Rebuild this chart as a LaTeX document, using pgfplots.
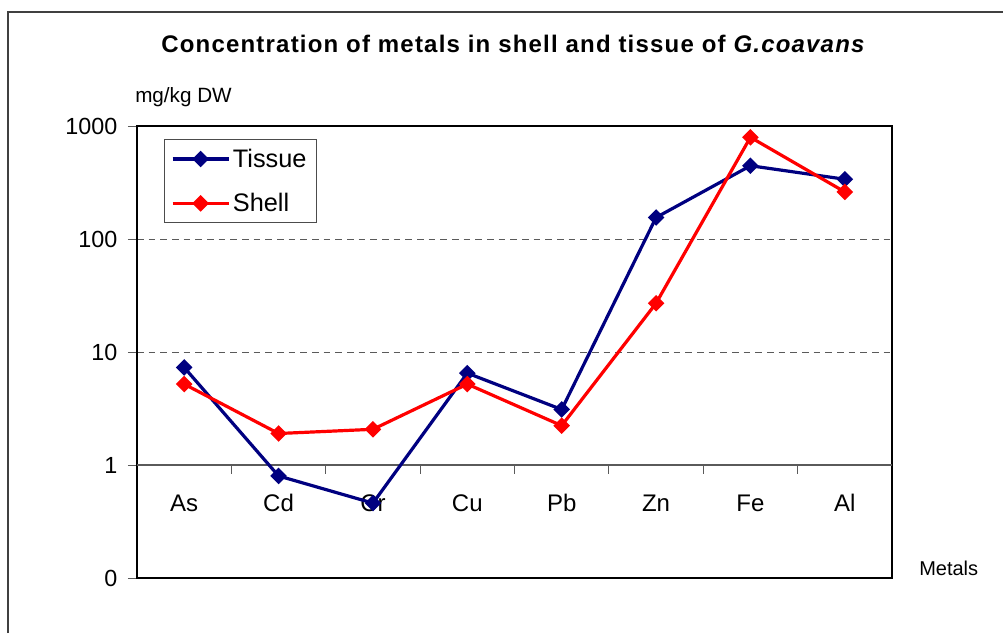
\documentclass[border=0pt]{standalone}
\usepackage{fontspec}
\setmainfont{Liberation Sans}
\newfontfamily\titlefont[LetterSpace=5]{Liberation Sans}
\usepackage{pgfplots}
\pgfplotsset{compat=1.18}
\definecolor{tissue}{RGB}{0,0,128}
\definecolor{shell}{RGB}{255,0,0}
\definecolor{gridc}{RGB}{90,90,90}
\def\px{0.75pt}

\begin{document}
\begin{tikzpicture}
  \path[use as bounding box] (0,0) rectangle (1003*\px,633*\px);
  % outer chart frame (cut off right and bottom)
  \draw[line width=1.2pt, black!75] (8*\px,0) -- (8*\px,621*\px) -- (1003*\px,621*\px);

  \begin{axis}[at={(137*\px,55*\px)}, anchor=south west,
    scale only axis, width=755*\px, height=452*\px,
    ymode=log, ymin=0.1, ymax=1000, xmin=-0.5, xmax=7.5,
    axis line style={line width=1.5pt, black},
    ytick={0.1,1,10,100,1000}, yticklabels={0,1,10,100,1000},
    ytick pos=left, tick align=outside,
    ytick style={gridc, line width=0.6pt, /pgfplots/major tick length=9*\px},
    yminorticks=false, log basis y=10,
    ymajorgrids, major grid style={gridc, line width=0.6pt, dash pattern=on 5pt off 3.75pt},
    y tick label style={font=\fontsize{17.5}{20}\selectfont, xshift=-7pt},
    xtick={0,...,7}, xticklabels={As,Cd,Cr,Cu,Pb,Zn,Fe,Al},
    xtick style={draw=none},
    x tick label style={font=\fontsize{18}{20}\selectfont, anchor=base, yshift=54pt},
    legend cell align=left,
    legend style={at={(0.0357,0.971)}, anchor=north west, draw=black!70, line width=0.6pt,
      font=\fontsize{19}{22}\selectfont, row sep=14pt, inner xsep=5pt, inner ysep=5pt},
    legend image code/.code={\draw[mark repeat=2,mark phase=2] plot coordinates {(0pt,0pt) (21pt,0pt) (42pt,0pt)};},
    every axis plot/.append style={line width=2.4pt, mark=square*, mark size=3.2pt},
  ]
    % category axis line at y = 1 with boundary ticks
    \draw[gridc, line width=0.8pt] (axis cs:-0.5,1) -- (axis cs:7.5,1);
    \pgfplotsinvokeforeach{0.5,1.5,...,6.5}{\draw[gridc, line width=0.8pt] (axis cs:#1,1) -- ([yshift=-6.75pt]axis cs:#1,1);}

    \addplot[tissue, mark options={rotate=45, solid, fill=tissue, draw=tissue}] coordinates {
      (0,7.3) (1,0.80) (2,0.46) (3,6.5) (4,3.1) (5,155) (6,445) (7,338) };
    \addlegendentry{Tissue}
    \addplot[shell, mark options={rotate=45, solid, fill=shell, draw=shell}] coordinates {
      (0,5.2) (1,1.9) (2,2.07) (3,5.2) (4,2.23) (5,27) (6,795) (7,261) };
    \addlegendentry{Shell}
  \end{axis}

  \node[anchor=base, font=\titlefont\fontsize{18}{21}\selectfont\bfseries] at (513.5*\px,580*\px)
    {Concentration of metals in shell and tissue of \textit{G.coavans}};
  \node[anchor=base west, inner sep=0pt, font=\fontsize{15.5}{18}\selectfont] at (135*\px,530*\px) {mg/kg DW};
  \node[anchor=base west, inner sep=0pt, font=\fontsize{15}{18}\selectfont] at (919*\px,58*\px) {Metals};
\end{tikzpicture}
\end{document}
